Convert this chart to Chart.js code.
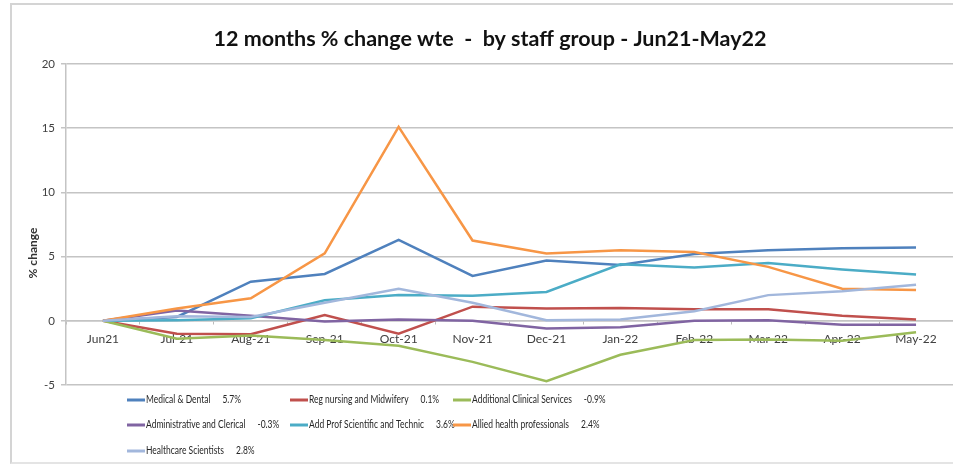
<!DOCTYPE html>
<html>
<head>
<meta charset="utf-8">
<title>12 months % change wte - by staff group</title>
<script src="https://cdn.jsdelivr.net/npm/chart.js@4.4.1/dist/chart.umd.min.js"></script>
<style>
  html, body { margin: 0; padding: 0; background: #fff; }
  #wrap { position: relative; width: 953px; height: 468px; overflow: hidden; }
  #frame {
    position: absolute; left: 10px; top: 3px; width: 960px; height: 461px;
    border-left: 2px solid #d4d4d4; border-top: 2px solid #d4d4d4; border-bottom: 2px solid #e4e4e4;
    box-sizing: border-box;
  }
  #c { position: absolute; left: 0; top: 0; }
</style>
</head>
<body>
<div id="wrap">
  <div id="frame"></div>
  <canvas id="c" width="979" height="468"></canvas>
</div>
<script>
// Month categories
const months = ['Jun21', 'Jul-21', 'Aug-21', 'Sep-21', 'Oct-21', 'Nov-21',
                'Dec-21', 'Jan-22', 'Feb-22', 'Mar-22', 'Apr-22', 'May-22'];

// Cumulative % change in whole-time equivalent since Jun21, per staff group
const medicalDental      = [0, 0.3, 3.05, 3.65, 6.3, 3.5, 4.7, 4.35, 5.2, 5.5, 5.65, 5.7];
const regNursing         = [0, -1.0, -1.05, 0.45, -1.0, 1.1, 0.95, 1.0, 0.9, 0.9, 0.4, 0.1];
const additionalClinical = [0, -1.4, -1.15, -1.5, -1.95, -3.2, -4.7, -2.65, -1.5, -1.45, -1.55, -0.9];
const adminClerical      = [0, 0.8, 0.4, -0.05, 0.1, 0.0, -0.6, -0.5, 0.0, 0.05, -0.3, -0.3];
const addProfScientific  = [0, 0.05, 0.2, 1.6, 2.0, 1.95, 2.25, 4.4, 4.15, 4.5, 4.0, 3.6];
const alliedHealth       = [0, 0.95, 1.75, 5.25, 15.1, 6.25, 5.25, 5.5, 5.35, 4.2, 2.5, 2.4];
const healthcareSci      = [0, 0.35, 0.3, 1.4, 2.5, 1.4, 0.05, 0.1, 0.75, 2.0, 2.3, 2.8];

// Staff group names
const groupNames = ['Medical & Dental', 'Reg nursing and Midwifery', 'Additional Clinical Services',
                    'Administrative and Clerical', 'Add Prof Scientific and Technic',
                    'Allied health professionals', 'Healthcare Scientists'];
const groupSeries = [medicalDental, regNursing, additionalClinical, adminClerical,
                     addProfScientific, alliedHealth, healthcareSci];
const groupColors = ['#4F81BD', '#C0504D', '#9BBB59', '#8064A2', '#4BACC6', '#F79646', '#A2B7DC'];

// Y axis tick settings
const yMin = -5, yMax = 20, yStep = 5;

const chartTitle = '12 months % change wte  -  by staff group - Jun21-May22';
const yTitle = '% change';

const FONT = 'Lato, "Liberation Sans", sans-serif';

const datasets = groupSeries.map((vals, i) => ({
  label: groupNames[i],
  data: vals,
  borderColor: groupColors[i],
  backgroundColor: groupColors[i],
  borderWidth: 2.5,
  pointRadius: 0,
  tension: 0,
  fill: false,
  order: groupSeries.length - i
}));

// Title, axis title and three-column legend drawn around the plot
const extras = {
  id: 'extras',
  afterDraw(chart) {
    const ctx = chart.ctx;

    // chart title
    ctx.save();
    ctx.fillStyle = '#111';
    ctx.font = 'bold 21.5px ' + FONT;
    ctx.textAlign = 'center';
    ctx.textBaseline = 'middle';
    ctx.fillText(chartTitle, 490, 39);
    ctx.restore();

    // y axis title
    ctx.save();
    ctx.translate(33, 253);
    ctx.rotate(-Math.PI / 2);
    ctx.fillStyle = '#333';
    ctx.font = 'bold 12px ' + FONT;
    ctx.textAlign = 'center';
    ctx.textBaseline = 'middle';
    ctx.fillText(yTitle, 0, 0);
    ctx.restore();

    // legend: swatch, group name, then latest value
    const colX = [127, 290, 453];
    const rowY = [400, 425, 451];
    const sx = 0.8;
    chart.data.datasets.forEach((ds, i) => {
      const x = colX[i % 3];
      const y = rowY[Math.floor(i / 3)];
      ctx.save();
      ctx.strokeStyle = ds.borderColor;
      ctx.lineWidth = 3;
      ctx.beginPath();
      ctx.moveTo(x, y);
      ctx.lineTo(x + 18, y);
      ctx.stroke();
      ctx.translate(x + 19, y);
      ctx.scale(sx, 1);
      ctx.font = '10.6px ' + FONT;
      ctx.textBaseline = 'middle';
      ctx.textAlign = 'left';
      ctx.fillStyle = '#262626';
      ctx.fillText(ds.label, 0, 0);
      const last = ds.data[ds.data.length - 1];
      const w = ctx.measureText(ds.label).width;
      ctx.fillText(last.toFixed(1) + '%', w + 12 / sx, 0);
      ctx.restore();
    });
  }
};

new Chart(document.getElementById('c'), {
  type: 'line',
  data: { labels: months, datasets },
  plugins: [extras],
  options: {
    responsive: false,
    animation: false,
    layout: { padding: { top: 64, left: 0, right: 26, bottom: 83 } },
    plugins: {
      legend: { display: false },
      tooltip: { enabled: false },
      title: { display: false }
    },
    scales: {
      x: {
        position: { y: 0 },
        offset: true,
        grid: { display: true, drawOnChartArea: false, drawTicks: true, tickLength: 3, offset: true, color: '#bcbcbc', lineWidth: 1 },
        border: { display: true, color: '#c4c4c4', width: 1.5 },
        ticks: { autoSkip: false, maxRotation: 0, padding: 8, color: '#404040', font: { family: FONT, size: 12 } }
      },
      y: {
        min: yMin, max: yMax,
        afterFit(scale) { scale.width = 66; },
        grid: { color: '#c4c4c4', lineWidth: 1.5, drawTicks: true, tickLength: 5 },
        border: { display: true, color: '#c4c4c4', width: 1.5 },
        ticks: { stepSize: yStep, padding: 6, color: '#404040', font: { family: FONT, size: 11.5 } }
      }
    }
  }
});
</script>
</body>
</html>
